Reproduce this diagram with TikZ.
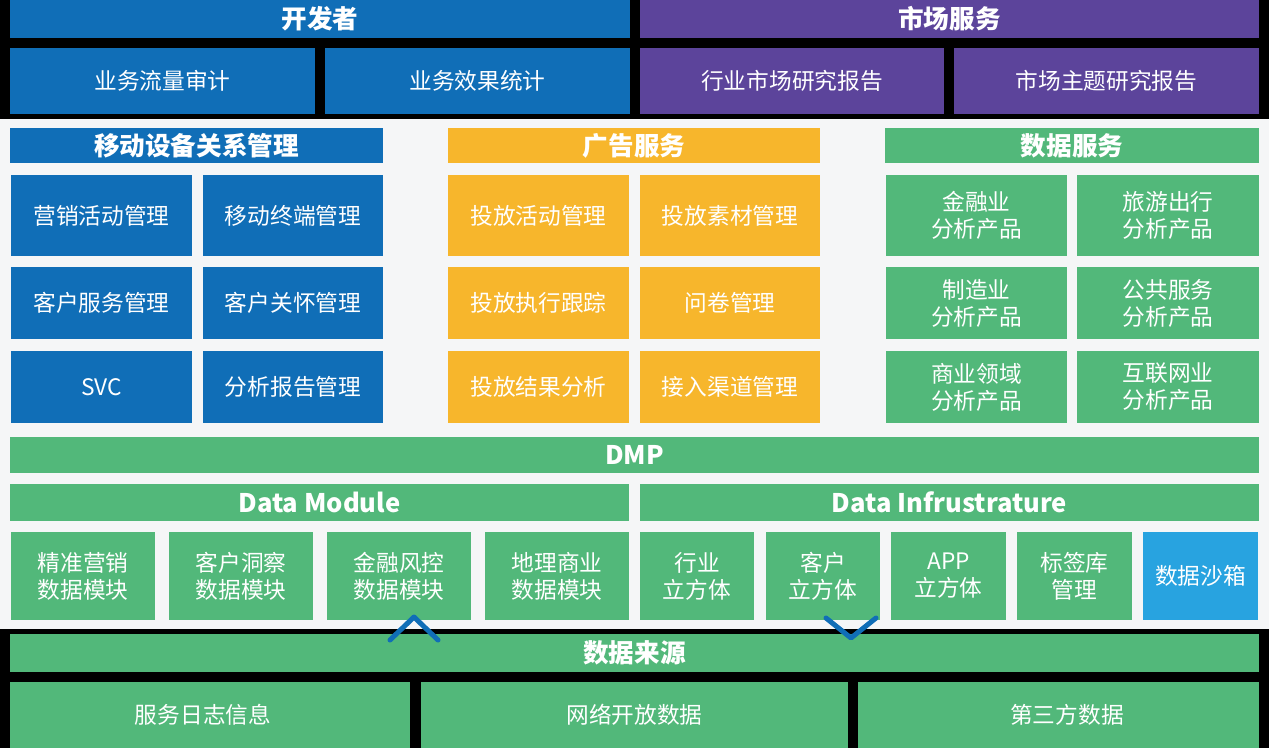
\documentclass[tikz,border=0pt]{standalone}
\usepackage{fontspec}
\setmainfont{Noto Sans CJK SC}
\definecolor{cblue}{RGB}{16,110,183}
\definecolor{cpurple}{RGB}{92,68,155}
\definecolor{corange}{RGB}{247,182,44}
\definecolor{cgreen}{RGB}{82,184,122}
\definecolor{csky}{RGB}{40,163,224}
\definecolor{cgray}{RGB}{245,246,247}
\tikzset{
  cellbox/.style={rectangle, inner sep=0pt, outer sep=0pt, draw=none, text=white, align=center,
    font=\fontsize{22.7}{27}\selectfont},
  headbox/.style={cellbox, font=\fontsize{25.6}{28}\selectfont\bfseries},
  chev/.style={draw=cblue, line width=5pt, line cap=round, line join=round}
}
% \mkbox{style}{name}{x1}{y1}{x2}{y2}{fill}{text}
\newcommand\mkbox[8]{\node[#1, fill=#7, minimum width={(#5-#3)*1pt}, minimum height={(#6-#4)*1pt}] (#2) at ({(#3+#5)/2},{(#4+#6)/2}) {#8};}
\begin{document}
\begin{tikzpicture}[x=1pt,y=-1pt]
\fill[black] (0,0) rectangle (1269,748);
\fill[cgray] (0,119) rectangle (1269,629);
\useasboundingbox (0,0) rectangle (1269,748);
% top
\mkbox{headbox}{dev}{10}{0}{630}{38}{cblue}{开发者}
\mkbox{headbox}{mkt}{640}{0}{1259}{38}{cpurple}{市场服务}
\mkbox{cellbox}{t1}{10}{48}{315}{114}{cblue}{业务流量审计}
\mkbox{cellbox}{t2}{325}{48}{630}{114}{cblue}{业务效果统计}
\mkbox{cellbox}{t3}{640}{48}{944}{114}{cpurple}{行业市场研究报告}
\mkbox{cellbox}{t4}{954}{48}{1259}{114}{cpurple}{市场主题研究报告}
% middle headers
\mkbox{headbox}{mob}{10}{128}{383}{163}{cblue}{移动设备关系管理}
\mkbox{headbox}{ad}{448}{128}{820}{163}{corange}{广告服务}
\mkbox{headbox}{ds}{885}{128}{1259}{163}{cgreen}{数据服务}
% mobile
\mkbox{cellbox}{m11}{11}{175}{192}{256}{cblue}{营销活动管理}
\mkbox{cellbox}{m12}{203}{175}{383}{256}{cblue}{移动终端管理}
\mkbox{cellbox}{m21}{11}{267}{192}{339}{cblue}{客户服务管理}
\mkbox{cellbox}{m22}{203}{267}{383}{339}{cblue}{客户关怀管理}
\mkbox{cellbox}{m31}{11}{351}{192}{423}{cblue}{SVC}
\mkbox{cellbox}{m32}{203}{351}{383}{423}{cblue}{分析报告管理}
% ads
\mkbox{cellbox}{a11}{448}{175}{629}{256}{corange}{投放活动管理}
\mkbox{cellbox}{a12}{640}{175}{820}{256}{corange}{投放素材管理}
\mkbox{cellbox}{a21}{448}{267}{629}{339}{corange}{投放执行跟踪}
\mkbox{cellbox}{a22}{640}{267}{820}{339}{corange}{问卷管理}
\mkbox{cellbox}{a31}{448}{351}{629}{423}{corange}{投放结果分析}
\mkbox{cellbox}{a32}{640}{351}{820}{423}{corange}{接入渠道管理}
% data service
\mkbox{cellbox}{d11}{886}{175}{1067}{256}{cgreen}{金融业\\分析产品}
\mkbox{cellbox}{d12}{1077}{175}{1259}{256}{cgreen}{旅游出行\\分析产品}
\mkbox{cellbox}{d21}{886}{267}{1067}{339}{cgreen}{制造业\\分析产品}
\mkbox{cellbox}{d22}{1077}{267}{1259}{339}{cgreen}{公共服务\\分析产品}
\mkbox{cellbox}{d31}{886}{351}{1067}{423}{cgreen}{商业领域\\分析产品}
\mkbox{cellbox}{d32}{1077}{351}{1259}{423}{cgreen}{互联网业\\分析产品}
% DMP
\mkbox{headbox}{dmp}{10}{437}{1259}{473}{cgreen}{DMP}
\mkbox{headbox}{dmod}{10}{484}{629}{521}{cgreen}{Data Module}
\mkbox{headbox}{dinf}{640}{484}{1259}{521}{cgreen}{Data Infrustrature}
\mkbox{cellbox}{b1}{11}{532}{155}{620}{cgreen}{精准营销\\数据模块}
\mkbox{cellbox}{b2}{169}{532}{313}{620}{cgreen}{客户洞察\\数据模块}
\mkbox{cellbox}{b3}{327}{532}{471}{620}{cgreen}{金融风控\\数据模块}
\mkbox{cellbox}{b4}{485}{532}{629}{620}{cgreen}{地理商业\\数据模块}
\mkbox{cellbox}{b5}{640}{532}{754}{620}{cgreen}{行业\\立方体}
\mkbox{cellbox}{b6}{766}{532}{880}{620}{cgreen}{客户\\立方体}
\mkbox{cellbox}{b7}{891}{532}{1006}{620}{cgreen}{APP\\立方体}
\mkbox{cellbox}{b8}{1017}{532}{1132}{620}{cgreen}{标签库\\管理}
\mkbox{cellbox}{b9}{1143}{532}{1258}{620}{csky}{数据沙箱}
% sources
\mkbox{headbox}{src}{10}{634}{1259}{672}{cgreen}{数据来源}
\mkbox{cellbox}{s1}{10}{682}{410}{748}{cgreen}{服务日志信息\hspace*{14pt}}
\mkbox{cellbox}{s2}{421}{682}{848}{748}{cgreen}{网络开放数据}
\mkbox{cellbox}{s3}{858}{682}{1259}{748}{cgreen}{\hspace*{17pt}第三方数据}
% chevrons
\coordinate (u1) at (390,640);
\coordinate (u2) at (414,617);
\coordinate (u3) at (438,640);
\coordinate (v1) at (826,618);
\coordinate (v2) at (851,638);
\coordinate (v3) at (876,618);
\draw[chev] (u1) -- (u2) -- (u3);
\draw[chev] (v1) -- (v2) -- (v3);
\end{tikzpicture}
\end{document}
